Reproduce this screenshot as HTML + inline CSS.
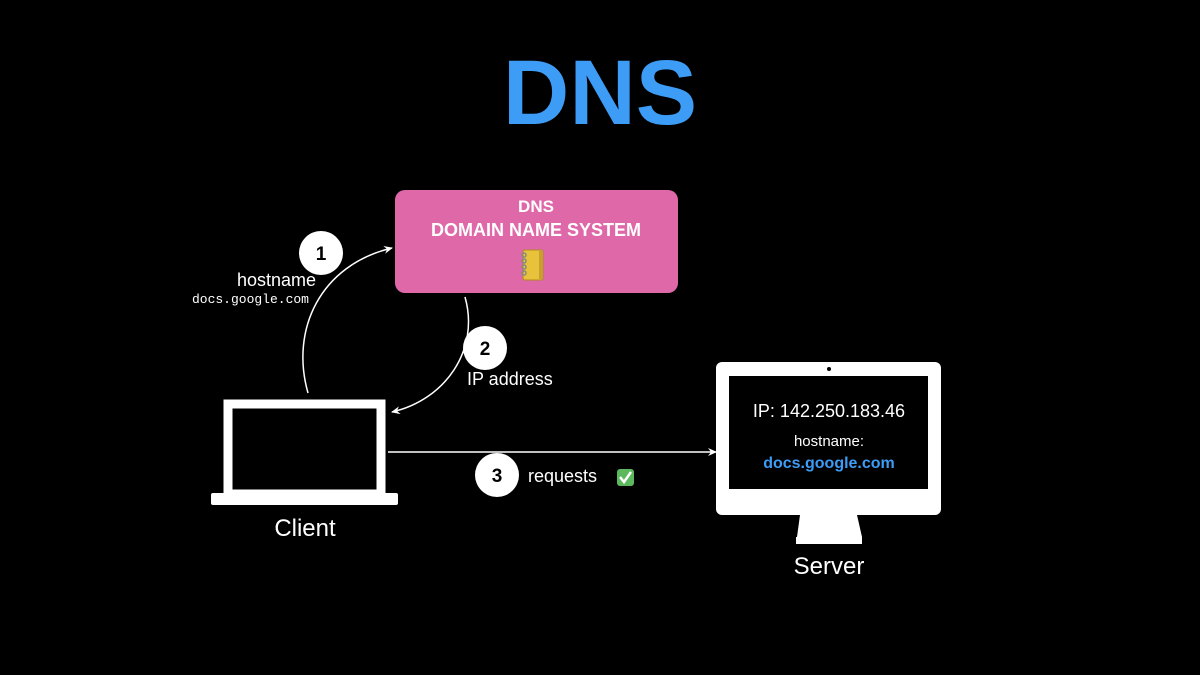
<!DOCTYPE html>
<html><head><style>
body{margin:0;background:#000;}
svg{display:block}
text{font-family:"Liberation Sans",sans-serif;fill:#fff}
</style></head><body>
<svg width="1200" height="675" viewBox="0 0 1200 675">
<defs><marker id="a" markerWidth="10" markerHeight="10" refX="8" refY="5" orient="auto" markerUnits="userSpaceOnUse"><path d="M0,1 L9,5 L0,9 L3,5Z" fill="#fff"/></marker></defs>
<rect width="1200" height="675" fill="#000"/>
<text x="600" y="124" font-size="92" font-weight="bold" text-anchor="middle" style="fill:#3d9cf5">DNS</text>
<rect x="395" y="190" width="283" height="103" rx="10" fill="#de68a8"/>
<text x="536" y="212" font-size="17" font-weight="bold" text-anchor="middle">DNS</text>
<text x="536" y="236" font-size="18" font-weight="bold" text-anchor="middle">DOMAIN NAME SYSTEM</text>
<g transform="translate(521,250)"><rect x="2" y="0" width="20" height="30" rx="2" fill="#e8c23a" stroke="#b08a20"/><rect x="18" y="1" width="4" height="28" fill="#c9a030"/><g stroke="#888" stroke-width="1.5" fill="none"><circle cx="3" cy="5" r="2"/><circle cx="3" cy="11" r="2"/><circle cx="3" cy="17" r="2"/><circle cx="3" cy="23" r="2"/></g></g>
<path d="M308,393 C290,330 320,265 392,248" fill="none" stroke="#fff" stroke-width="1.5" marker-end="url(#a)"/>
<path d="M465,297 C480,350 445,400 392,412" fill="none" stroke="#fff" stroke-width="1.5" marker-end="url(#a)"/>
<line x1="388" y1="452" x2="716" y2="452" stroke="#fff" stroke-width="1.5" marker-end="url(#a)"/>
<circle cx="321" cy="253" r="22" fill="#fff"/><text x="321" y="260" font-size="19" font-weight="bold" text-anchor="middle" style="fill:#000">1</text>
<circle cx="485" cy="348" r="22" fill="#fff"/><text x="485" y="355" font-size="19" font-weight="bold" text-anchor="middle" style="fill:#000">2</text>
<circle cx="497" cy="475" r="22" fill="#fff"/><text x="497" y="482" font-size="19" font-weight="bold" text-anchor="middle" style="fill:#000">3</text>
<text x="316" y="286" font-size="18" text-anchor="end">hostname</text>
<text x="309" y="303" font-size="13" text-anchor="end" style="font-family:'Liberation Mono',monospace">docs.google.com</text>
<text x="467" y="385" font-size="18">IP address</text>
<text x="528" y="482" font-size="18">requests</text>
<rect x="617" y="469" width="17" height="17" rx="3" fill="#5cb85c"/><path d="M620,477 L624,482 L631,472" stroke="#fff" stroke-width="2.5" fill="none"/>
<rect x="228" y="404" width="153" height="90" fill="none" stroke="#fff" stroke-width="9"/>
<rect x="211" y="493" width="187" height="12" rx="2" fill="#fff"/>
<text x="305" y="536" font-size="24" text-anchor="middle">Client</text>
<rect x="716" y="362" width="225" height="153" rx="6" fill="#fff"/>
<rect x="729" y="376" width="199" height="113" fill="#000"/>
<circle cx="829" cy="369" r="2" fill="#000"/>
<path d="M800,515 L857,515 L862,537 L797,537Z" fill="#fff"/>
<rect x="796" y="537" width="66" height="7" fill="#fff"/>
<text x="829" y="417" font-size="18" text-anchor="middle">IP: 142.250.183.46</text>
<text x="829" y="446" font-size="15" text-anchor="middle">hostname:</text>
<text x="829" y="468" font-size="16" font-weight="bold" text-anchor="middle" style="fill:#3d9cf5">docs.google.com</text>
<text x="829" y="574" font-size="24" text-anchor="middle">Server</text>
</svg>
</body></html>
